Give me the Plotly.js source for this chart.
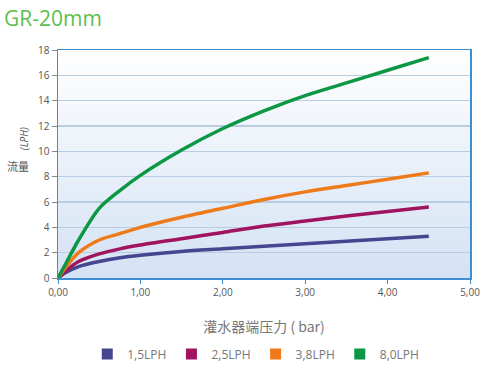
<!DOCTYPE html>
<html><head><meta charset="utf-8">
<script src="https://cdn.plot.ly/plotly-3.0.1.min.js"></script>
<style>body{margin:0;background:#fff}#c{width:500px;height:380px}</style>
</head><body><div id="c"></div>
<script>
const pressure = [0, 0.1, 0.25, 0.5, 0.75, 1, 1.5, 2, 2.5, 3, 3.5, 4, 4.5];
const flow15 = [0, 0.45, 0.9, 1.3, 1.6, 1.8, 2.1, 2.3, 2.5, 2.7, 2.9, 3.1, 3.3];
const flow25 = [0, 0.6, 1.3, 1.9, 2.3, 2.6, 3.1, 3.6, 4.1, 4.5, 4.9, 5.25, 5.6];
const flow38 = [0, 0.9, 2.0, 3.0, 3.5, 4.0, 4.8, 5.5, 6.2, 6.8, 7.3, 7.8, 8.3];
const flow80 = [0, 1.2, 3.0, 5.5, 6.9, 8.1, 10.1, 11.8, 13.2, 14.4, 15.4, 16.4, 17.4];
const seriesNames = ['1,5LPH', '2,5LPH', '3,8LPH', '8,0LPH'];
const seriesColors = ['#46458f', '#a0135f', '#ee7a1a', '#0c9744'];
const xTickVals = [0, 1, 2, 3, 4, 5];
const xTickText = ['0,00', '1,00', '2,00', '3,00', '4,00', '5,00'];
const yTickVals = [0, 2, 4, 6, 8, 10, 12, 14, 16, 18];

const allFlows = [flow15, flow25, flow38, flow80];
const traces = [];
allFlows.forEach((f, i) => {
  traces.push({x: pressure, y: f, mode: 'lines', line: {color: seriesColors[i], width: 3.5, shape: 'spline', smoothing: 0.8}, showlegend: false, hoverinfo: 'skip'});
});
seriesNames.forEach((n, i) => {
  traces.push({x: [null], y: [null], mode: 'markers', name: n, marker: {symbol: 'square', size: 11, color: seriesColors[i]}});
});

const grad = 'data:image/svg+xml;utf8,' + encodeURIComponent('<svg xmlns="http://www.w3.org/2000/svg" width="100" height="100" preserveAspectRatio="none"><defs><linearGradient id="g" x1="0" y1="0" x2="0" y2="1"><stop offset="0" stop-color="#ffffff"/><stop offset="1" stop-color="#d4e2f4"/></linearGradient></defs><rect width="100" height="100" fill="url(#g)"/></svg>');

const font = 'Open Sans, Noto Sans CJK SC, sans-serif';
const cjk = 'Noto Sans CJK SC, sans-serif';
const layout = {
  width: 500, height: 380,
  margin: {l: 58, r: 30, t: 50, b: 102},
  paper_bgcolor: '#ffffff', plot_bgcolor: 'rgba(0,0,0,0)',
  font: {family: font, color: '#555', size: 10},
  images: [{source: grad, xref: 'paper', yref: 'paper', x: 0, y: 1, sizex: 1, sizey: 1, sizing: 'stretch', layer: 'below'}],
  xaxis: {range: [0, 5], tickvals: xTickVals, ticktext: xTickText, showgrid: false, zeroline: false,
    showline: true, linecolor: '#3d8fd2', linewidth: 1.5, mirror: true, ticks: 'outside', ticklen: 4, tickcolor: '#3d8fd2',
    tickfont: {size: 10, color: '#555'},
    title: {text: '灌水器端压力 ( bar)', font: {size: 14, color: '#777', family: cjk}, standoff: 24}},
  yaxis: {range: [0, 18], tickvals: yTickVals, showgrid: true, gridcolor: '#b9cde2', gridwidth: 1.5, zeroline: false,
    showline: true, linecolor: '#3d8fd2', linewidth: 1.5, mirror: true, ticks: 'outside', ticklen: 5, tickcolor: '#888',
    tickfont: {size: 10, color: '#555'}},
  legend: {orientation: 'h', x: 0.48, xanchor: 'center', y: -0.27, yanchor: 'top', font: {size: 12, color: '#777'}, tracegroupgap: 0},
  title: {text: 'GR-20mm', x: 0.008, xanchor: 'left', yref: 'container', y: 0.97, yanchor: 'top', font: {size: 21, color: '#5cbf4c', family: font}},
  annotations: [
    {text: '<i>(LPH)</i>', xref: 'paper', yref: 'paper', x: -0.082, y: 0.61, xanchor: 'center', yanchor: 'middle', textangle: -90, showarrow: false, font: {size: 10, color: '#555'}},
    {text: '流量', xref: 'paper', yref: 'paper', x: -0.098, y: 0.49, xanchor: 'center', yanchor: 'middle', showarrow: false, font: {size: 11, color: '#555', family: 'Noto Sans CJK JP, sans-serif'}}
  ],
  showlegend: true
};
Plotly.newPlot('c', traces, layout, {displayModeBar: false, staticPlot: true});
</script></body></html>
